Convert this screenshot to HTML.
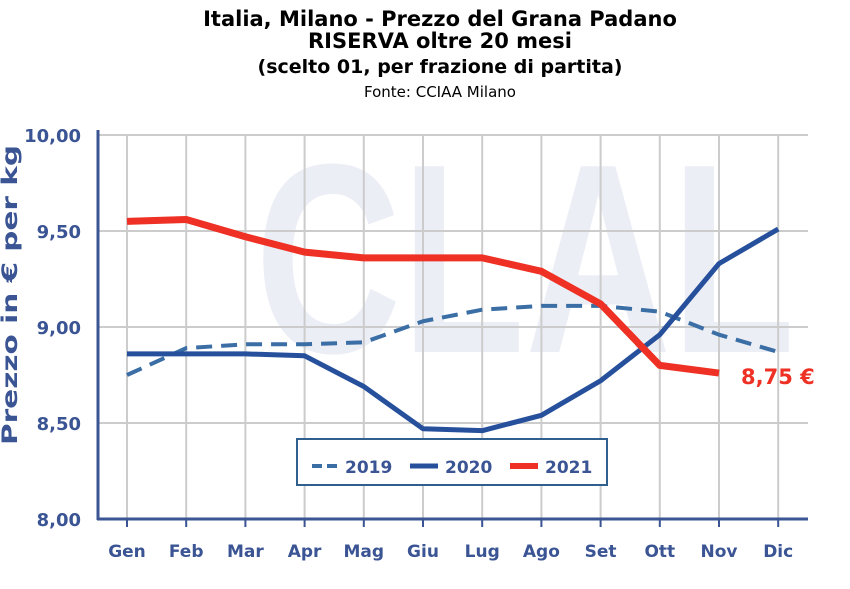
<!DOCTYPE html>
<html><head><meta charset="utf-8"><style>
body{margin:0;background:#fff;width:850px;height:584px;overflow:hidden;font-family:"Liberation Sans",Verdana,sans-serif}
</style></head><body>
<svg width="850" height="584" xmlns="http://www.w3.org/2000/svg" font-family="'DejaVu Sans', 'Liberation Sans', sans-serif">
<g text-anchor="middle" font-weight="bold" fill="#000">
<text x="440" y="26" font-size="21">Italia, Milano - Prezzo del Grana Padano</text>
<text x="440" y="48" font-size="21">RISERVA oltre 20 mesi</text>
<text x="440" y="73" font-size="19">(scelto 01, per frazione di partita)</text>
<text x="440" y="97" font-size="15" font-weight="normal">Fonte: CCIAA Milano</text>
</g>
<clipPath id="pc"><rect x="98" y="134" width="710" height="385"/></clipPath>
<text clip-path="url(#pc)" x="525" y="352" font-size="270" font-weight="bold" fill="#eceef6" text-anchor="middle" textLength="540" lengthAdjust="spacingAndGlyphs" font-family="'Liberation Sans', sans-serif">CLAL</text>
<g id="grid"></g>
<g id="axes"></g>
<g id="series"></g>
<text transform="translate(17,295) rotate(-90)" text-anchor="middle" font-size="21" font-weight="bold" fill="#3a5494" textLength="300" lengthAdjust="spacingAndGlyphs">Prezzo in € per kg</text>
<text x="741" y="384" font-size="21" font-weight="bold" fill="#ee3124">8,75 €</text>
<g>
<rect x="297" y="439" width="310" height="46" fill="#fff" stroke="#2e5f8f" stroke-width="2"/>
<line x1="312" y1="466" x2="338" y2="466" stroke="#3a6ea5" stroke-width="4" stroke-dasharray="10,5"/>
<text x="345" y="473" font-size="17" font-weight="bold" fill="#3a5494">2019</text>
<line x1="410" y1="466" x2="438" y2="466" stroke="#26509c" stroke-width="5"/>
<text x="445" y="473" font-size="17" font-weight="bold" fill="#3a5494">2020</text>
<line x1="510" y1="466" x2="538" y2="466" stroke="#ee3124" stroke-width="6"/>
<text x="545" y="473" font-size="17" font-weight="bold" fill="#3a5494">2021</text>
</g>
</svg>
<script>
const months=["Gen","Feb","Mar","Apr","Mag","Giu","Lug","Ago","Set","Ott","Nov","Dic"];
const yTicks=[8.0,8.5,9.0,9.5,10.0];
const yTickLabels=["8,00","8,50","9,00","9,50","10,00"];
const s2019=[8.75,8.89,8.91,8.91,8.92,9.03,9.09,9.11,9.11,9.08,8.96,8.87];
const s2020=[8.86,8.86,8.86,8.85,8.69,8.47,8.46,8.54,8.72,8.96,9.33,9.51];
const s2021=[9.55,9.56,9.47,9.39,9.36,9.36,9.36,9.29,9.12,8.80,8.76];
const NS="http://www.w3.org/2000/svg";
const X=i=>127+i*59.2, Y=v=>519-(v-8)*192;
function mk(t,a,p){const e=document.createElementNS(NS,t);for(const k in a)e.setAttribute(k,a[k]);p.appendChild(e);return e;}
const grid=document.getElementById('grid'),axes=document.getElementById('axes'),ser=document.getElementById('series');
months.forEach((m,i)=>{
 const g=mk('line',{x1:X(i),x2:X(i),y1:134,y2:518,stroke:'#cccccc','stroke-width':2},grid);
 
 
 const tk=mk('line',{x1:X(i),x2:X(i),y1:518,y2:527,stroke:'#3a5494','stroke-width':2},axes);
 
 
 const t=mk('text',{x:X(i),y:557,'text-anchor':'middle','font-size':17,'font-weight':'bold',fill:'#3a5494'},axes);
 t.textContent=m;
 
 
});
yTicks.forEach((v,i)=>{
 if(v>8){const g=mk('line',{x1:98,x2:808,y1:Y(v),y2:Y(v),stroke:'#cccccc','stroke-width':2},grid);
 
 }
 const t=mk('text',{x:81,y:Y(v)+7,'text-anchor':'end','font-size':18,'font-weight':'bold',fill:'#3a5494'},axes);
 t.textContent=yTickLabels[i];
 
 
});
const ya=mk('line',{x1:98,x2:98,y1:130,y2:520,stroke:'#3a5494','stroke-width':3},axes);


const xa=mk('line',{x1:97,x2:808,y1:519,y2:519,stroke:'#3a5494','stroke-width':3},axes);


function line(d,st,w,dash,name){
 const p=mk('polyline',{points:d.map((v,i)=>X(i)+','+Y(v)).join(' '),fill:'none',stroke:st,'stroke-width':w,'stroke-linejoin':'round'},ser);
 if(dash)p.setAttribute('stroke-dasharray',dash);
 
 
}
line(s2019,'#3a6ea5',4,'16,9','line-2019');
line(s2020,'#26509c',5,null,'line-2020');
line(s2021,'#ee3124',7,null,'line-2021');
</script>
</body></html>
